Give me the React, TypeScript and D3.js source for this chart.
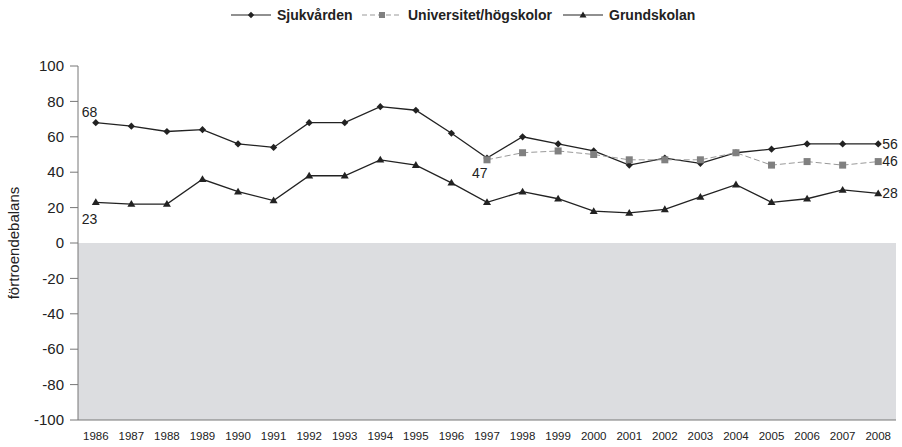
import React from "react";
import * as d3 from "d3";

const years = ["1986","1987","1988","1989","1990","1991","1992","1993","1994","1995","1996","1997","1998","1999","2000","2001","2002","2003","2004","2005","2006","2007","2008"];
const sjukvarden = [68,66,63,64,56,54,68,68,77,75,62,48,60,56,52,44,48,45,51,53,56,56,56];
const universitet: (number | null)[] = [null,null,null,null,null,null,null,null,null,null,null,47,51,52,50,47,47,47,51,44,46,44,46];
const grundskolan = [23,22,22,36,29,24,38,38,47,44,34,23,29,25,18,17,19,26,33,23,25,30,28];
const yTicks = [100,80,60,40,20,0,-20,-40,-60,-80,-100];
const seriesNames = ["Sjukvården", "Universitet/högskolor", "Grundskolan"];

const W = 902, H = 447;
const left = 78, right = 896, top = 66, bottom = 420;

export default function App() {
  const x = d3.scaleBand<string>().domain(years).range([left, right]);
  const cx = (y: string) => (x(y) as number) + x.bandwidth() / 2;
  const y = d3.scaleLinear().domain([-100, 100]).range([bottom, top]);

  const line = d3.line<[string, number | null]>()
    .defined(d => d[1] !== null)
    .x(d => cx(d[0]))
    .y(d => y(d[1] as number));

  const sj = years.map((yr, i) => [yr, sjukvarden[i]] as [string, number | null]);
  const un = years.map((yr, i) => [yr, universitet[i]] as [string, number | null]);
  const gr = years.map((yr, i) => [yr, grundskolan[i]] as [string, number | null]);

  const diamond = (px: number, py: number, r = 3.6) =>
    `M${px},${py - r}L${px + r},${py}L${px},${py + r}L${px - r},${py}Z`;
  const tri = (px: number, py: number, r = 4) =>
    `M${px},${py - r}L${px + r},${py + r * 0.7}L${px - r},${py + r * 0.7}Z`;

  const font = "'Liberation Sans', Arial, sans-serif";
  const last = years[years.length - 1];

  // legend layout
  const kinds = ["sj", "un", "gr"];
  const legendW = [76, 146, 87];
  const lineW = 40, gapA = 6, gapB = 9;
  let lx = 231;
  const legendPos = seriesNames.map((label, i) => {
    const p = { label, kind: kinds[i], x: lx };
    lx += lineW + gapA + legendW[i] + gapB;
    return p;
  });

  return (
    <svg width={W} height={H} style={{ position: "absolute", left: 0, top: 0, background: "#fff" }} fontFamily={font}>
      {/* negative area */}
      <rect x={left} y={y(0)} width={right - left} height={y(-100) - y(0)} fill="#dcdde0" />
      {/* axes */}
      <line x1={left} x2={left} y1={top} y2={bottom} stroke="#777" strokeWidth={1} />
      <line x1={left} x2={right} y1={bottom} y2={bottom} stroke="#777" strokeWidth={1} />
      {yTicks.map(t => (
        <g key={t}>
          <line x1={left - 8} x2={left} y1={y(t)} y2={y(t)} stroke="#777" />
          <text x={left - 14} y={y(t)} dy="0.35em" textAnchor="end" fontSize={15} fill="#222">{t}</text>
        </g>
      ))}
      {years.map(yr => (
        <text key={yr} x={cx(yr)} y={440} textAnchor="middle" fontSize={11.5} fill="#222">{yr}</text>
      ))}
      <text transform={`translate(19,${(top + bottom) / 2}) rotate(-90)`} textAnchor="middle" fontSize={15} fill="#222">förtroendebalans</text>

      {/* lines */}
      <path d={line(gr) as string} fill="none" stroke="#222" strokeWidth={1.3} />
      <path d={line(sj) as string} fill="none" stroke="#222" strokeWidth={1.3} />
      <path d={line(un) as string} fill="none" stroke="#999" strokeWidth={1} strokeDasharray="6,3" />

      {gr.map(([yr, v]) => <path key={"g" + yr} d={tri(cx(yr), y(v as number))} fill="#222" />)}
      {sj.map(([yr, v]) => <path key={"s" + yr} d={diamond(cx(yr), y(v as number))} fill="#222" />)}
      {un.filter(d => d[1] !== null).map(([yr, v]) => (
        <rect key={"u" + yr} x={cx(yr) - 3.5} y={y(v as number) - 3.5} width={7} height={7} fill="#808080" />
      ))}

      {/* data labels */}
      <text x={cx(years[0]) - 14} y={y(sjukvarden[0]) - 11} dy="0.35em" fontSize={14} fill="#222">{sjukvarden[0]}</text>
      <text x={cx(years[0]) - 14} y={y(grundskolan[0]) + 17} dy="0.35em" fontSize={14} fill="#222">{grundskolan[0]}</text>
      <text x={cx("1997") - 15} y={y(universitet[11] as number) + 13} dy="0.35em" fontSize={14} fill="#222">{universitet[11]}</text>
      <text x={cx(last) + 4} y={y(sjukvarden[22])} dy="0.35em" fontSize={14} fill="#222">{sjukvarden[22]}</text>
      <text x={cx(last) + 4} y={y(universitet[22] as number)} dy="0.35em" fontSize={14} fill="#222">{universitet[22]}</text>
      <text x={cx(last) + 4} y={y(grundskolan[22])} dy="0.35em" fontSize={14} fill="#222">{grundskolan[22]}</text>

      {/* legend */}
      {legendPos.map(it => {
        const ly = 15;
        const mx = it.x + lineW / 2;
        return (
          <g key={it.label}>
            {it.kind === "un" ? (
              <line x1={it.x} x2={it.x + lineW} y1={ly} y2={ly} stroke="#999" strokeDasharray="5,3" />
            ) : (
              <line x1={it.x} x2={it.x + lineW} y1={ly} y2={ly} stroke="#222" strokeWidth={1.2} />
            )}
            {it.kind === "sj" && <path d={diamond(mx, ly, 3.2)} fill="#222" />}
            {it.kind === "un" && <rect x={mx - 3} y={ly - 3} width={6} height={6} fill="#808080" />}
            {it.kind === "gr" && <path d={tri(mx, ly, 3.5)} fill="#222" />}
            <text x={it.x + lineW + gapA} y={ly} dy="0.35em" fontSize={14} fontWeight="bold" fill="#222">{it.label}</text>
          </g>
        );
      })}
    </svg>
  );
}
